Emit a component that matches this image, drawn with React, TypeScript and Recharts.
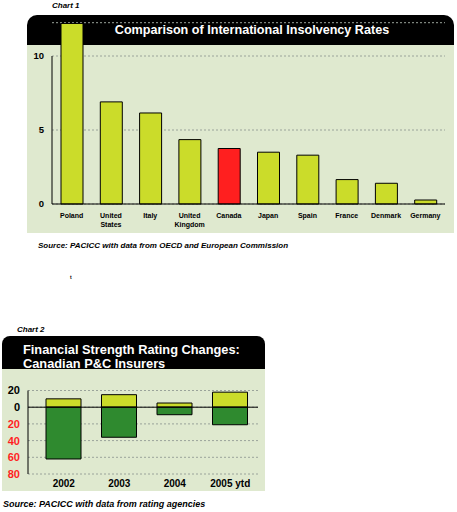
import { BarChart, Bar, XAxis, YAxis, CartesianGrid, Cell, ReferenceLine } from 'recharts';

// Chart 1: insolvency rates
const countries = ['Poland', 'United States', 'Italy', 'United Kingdom', 'Canada', 'Japan', 'Spain', 'France', 'Denmark', 'Germany'];
const insolvencyRates = [12.2, 6.9, 6.15, 4.35, 3.75, 3.5, 3.3, 1.65, 1.4, 0.27];
const rateTicks = [0, 5, 10];
const highlighted = 'Canada';

// Chart 2: rating changes
const years = ['2002', '2003', '2004', '2005 ytd'];
const upgrades = [10, 15, 5, 18];
const downgrades = [-62, -36, -9, -21];
const changeTicks = [20, 0, -20, -40, -60, -80];

const rateData = countries.map((name, i) => ({ name, rate: insolvencyRates[i] }));
const changeData = years.map((year, i) => ({ year, up: upgrades[i], down: downgrades[i] }));

const FONT = '"Liberation Sans", Arial, sans-serif';
const PANEL = '#dfe9cf';
const LIME = '#cbdc2a';
const DARK = '#2f8a2f';
const RED = '#ff1f1f';

function CountryTick({ x, y, payload }: any) {
  const lines = String(payload.value).split(' ');
  return (
    <text
      x={x}
      y={y + 1.5}
      textAnchor="middle"
      fontSize={7}
      fontWeight={700}
      fontFamily={FONT}
      style={{ fill: '#000' }}
    >
      {lines.map((l, i) => (
        <tspan key={i} x={x} dy={i === 0 ? '0.71em' : '1.2em'} style={{ fill: '#000' }}>
          {l}
        </tspan>
      ))}
    </text>
  );
}

function ChangeTick({ x, y, payload }: any) {
  const v = payload.value as number;
  return (
    <text x={x} y={y} dy="0.355em" textAnchor="end" fontSize={11} fontWeight={700} fontFamily={FONT} style={{ fill: v < 0 ? RED : '#000' }}>
      {Math.abs(v)}
    </text>
  );
}

export default function App() {
  return (
    <div style={{ position: 'absolute', left: 0, top: 0, width: 457, height: 512, background: '#fff', fontFamily: FONT }}>
      {/* Chart 1 frame */}
      <div style={{ position: 'absolute', left: 52, top: 1, fontSize: 8, fontWeight: 700, fontStyle: 'italic' }}>Chart 1</div>
      <div style={{ position: 'absolute', left: 27, top: 15, width: 427, height: 30, background: '#000', borderRadius: '10px 10px 0 0' }} />
      <div style={{ position: 'absolute', left: 27, top: 45, width: 427, height: 188, background: PANEL }} />
      <div style={{ position: 'absolute', left: 27, top: 23, width: 450, textAlign: 'center', color: '#fff', fontSize: 12.6, fontWeight: 700 }}>
        Comparison of International Insolvency Rates
      </div>

      <div style={{ position: 'absolute', left: 0, top: 0 }}>
        <BarChart width={457} height={240} data={rateData} margin={{ top: 22.7, right: 12, bottom: 6, left: 0 }} barSize={22}>
          <CartesianGrid horizontal vertical={false} stroke="#9aa39a" strokeDasharray="2 2" />
          <XAxis dataKey="name" interval={0} height={30} tickLine={false} axisLine={{ stroke: '#000' }} tick={<CountryTick />} />
          <YAxis
            width={52}
            domain={[0, 12.25]}
            ticks={rateTicks}
            interval={0}
            tickLine={false}
            axisLine={false}
            tick={{ fontSize: 9.5, fontWeight: 700, fill: '#000', fontFamily: FONT }}
          />
          <ReferenceLine
            segment={[
              { x: countries[0], y: 0 },
              { x: countries[0], y: 10 },
            ]}
            position="start"
            stroke="#000"
          />
          <Bar dataKey="rate" stroke="#000" strokeWidth={1} isAnimationActive={false}>
            {rateData.map((d) => (
              <Cell key={d.name} fill={d.name === highlighted ? RED : LIME} />
            ))}
          </Bar>
        </BarChart>
      </div>

      <div style={{ position: 'absolute', left: 38, top: 241, fontSize: 8, fontWeight: 700, fontStyle: 'italic' }}>
        Source: PACICC with data from OECD and European Commission
      </div>
      <div style={{ position: 'absolute', left: 70, top: 274, fontSize: 5, fontWeight: 700 }}>t</div>

      {/* Chart 2 frame */}
      <div style={{ position: 'absolute', left: 17, top: 325, fontSize: 8, fontWeight: 700, fontStyle: 'italic' }}>Chart 2</div>
      <div style={{ position: 'absolute', left: 2, top: 336, width: 263, height: 33, background: '#000', borderRadius: '8px 8px 0 0' }} />
      <div style={{ position: 'absolute', left: 2, top: 369, width: 263, height: 122, background: PANEL }} />
      <div style={{ position: 'absolute', left: 23, top: 343, color: '#fff', fontSize: 12.8, fontWeight: 700, lineHeight: '14px' }}>
        Financial Strength Rating Changes:
        <br />
        Canadian P&amp;C Insurers
      </div>

      <div style={{ position: 'absolute', left: 0, top: 360 }}>
        <BarChart width={265} height={135} data={changeData} stackOffset="sign" margin={{ top: 30.5, right: 7, bottom: 3, left: 0 }} barSize={35}>
          <CartesianGrid horizontal vertical={false} stroke="#9aa39a" strokeDasharray="2 2" />
          <XAxis
            dataKey="year"
            height={18}
            padding={{ left: 8, right: 0 }}
            tickLine={false}
            tickMargin={0}
            axisLine={false}
            tick={{ fontSize: 10, fontWeight: 700, fill: '#000', fontFamily: FONT }}
          />
          <YAxis
            width={28}
            domain={[-80, 20]}
            ticks={changeTicks}
            interval={0}
            tickLine={false}
            axisLine={{ stroke: '#000' }}
            tick={<ChangeTick />}
          />
          <Bar dataKey="up" stackId="a" fill={LIME} stroke="#000" strokeWidth={1} isAnimationActive={false} />
          <Bar dataKey="down" stackId="a" fill={DARK} stroke="#000" strokeWidth={1} isAnimationActive={false} />
          <ReferenceLine y={0} stroke="#000" />
        </BarChart>
      </div>

      <div style={{ position: 'absolute', left: 3, top: 499, fontSize: 9, fontWeight: 700, fontStyle: 'italic' }}>
        Source: PACICC with data from rating agencies
      </div>
    </div>
  );
}
